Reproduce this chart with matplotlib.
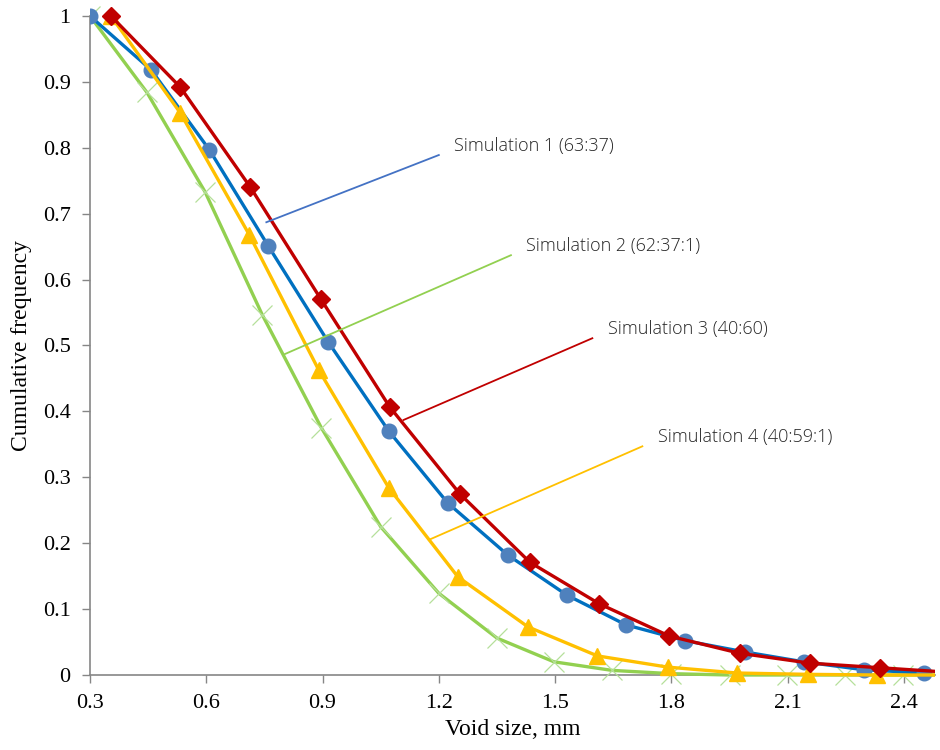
import matplotlib
matplotlib.use('Agg')
import matplotlib.pyplot as plt
from matplotlib.transforms import Bbox, TransformedBbox

# Simulation 1 (63:37) - blue circles
sim1_x = [0.300, 0.458, 0.608, 0.760, 0.915, 1.071, 1.223, 1.378, 1.531, 1.683, 1.836, 1.989, 2.141, 2.296, 2.452]
sim1_y = [1.000, 0.918, 0.797, 0.651, 0.505, 0.370, 0.261, 0.182, 0.121, 0.076, 0.052, 0.035, 0.020, 0.008, 0.003]

# Simulation 2 (62:37:1) - green crosses
sim2_x = [0.300, 0.447, 0.597, 0.745, 0.897, 1.050, 1.200, 1.350, 1.497, 1.647, 1.800, 1.950, 2.097, 2.247, 2.397, 2.547]
sim2_y = [1.000, 0.884, 0.733, 0.546, 0.375, 0.225, 0.124, 0.056, 0.020, 0.007, 0.002, 0.000, 0.000, 0.000, 0.000, 0.000]

# Simulation 3 (40:60) - red diamonds
sim3_x = [0.354, 0.533, 0.714, 0.895, 1.073, 1.254, 1.435, 1.614, 1.795, 1.976, 2.157, 2.338, 2.520]
sim3_y = [1.000, 0.892, 0.740, 0.571, 0.407, 0.275, 0.171, 0.108, 0.059, 0.033, 0.018, 0.011, 0.004]

# Simulation 4 (40:59:1) - yellow triangles
sim4_x = [0.354, 0.533, 0.711, 0.890, 1.071, 1.249, 1.430, 1.609, 1.790, 1.970, 2.152, 2.330, 2.510]
sim4_y = [1.000, 0.853, 0.668, 0.463, 0.284, 0.149, 0.073, 0.029, 0.012, 0.003, 0.001, 0.000, 0.000]

x_ticks = [0.3, 0.6, 0.9, 1.2, 1.5, 1.8, 2.1, 2.4]
x_tick_labels = ['0.3', '0.6', '0.9', '1.2', '1.5', '1.8', '2.1', '2.4']
y_ticks = [0, 0.1, 0.2, 0.3, 0.4, 0.5, 0.6, 0.7, 0.8, 0.9, 1.0]
y_tick_labels = ['0', '0.1', '0.2', '0.3', '0.4', '0.5', '0.6', '0.7', '0.8', '0.9', '1']

# callout labels: (text, line start, line end / text anchor, colour)
labels = ['Simulation 1 (63:37)', 'Simulation 2 (62:37:1)', 'Simulation 3 (40:60)', 'Simulation 4 (40:59:1)']
label_from = [(0.755, 0.687), (0.799, 0.486), (1.109, 0.387), (1.174, 0.205)]
label_to = [(1.200, 0.789), (1.386, 0.637), (1.596, 0.511), (1.725, 0.347)]
label_colors = ['#4472C4', '#92D050', '#C00000', '#FFC000']

fig = plt.figure(figsize=(9.4, 7.5), dpi=100)
ax = fig.add_axes([0.0957, 0.1, 0.8990, 0.8787])

# clip at the left/right edges only, so the markers at y=1 stay whole
clip = TransformedBbox(Bbox([[0, -0.05], [1, 1.05]]), ax.transAxes)

lines = []
lines += ax.plot(sim2_x, sim2_y, color='#92D050', linewidth=2.4, marker='x', markersize=14,
                 markeredgecolor='#B5E09A', markeredgewidth=0.9, zorder=3)
lines += ax.plot(sim1_x, sim1_y, color='#0070C0', linewidth=2.4, marker='o', markersize=10.5,
                 markerfacecolor='#4F81BD', markeredgecolor='#4F81BD', zorder=4)
lines += ax.plot(sim4_x, sim4_y, color='#FFC000', linewidth=2.4, marker='^', markersize=11,
                 markerfacecolor='#FFC000', markeredgecolor='#FFC000', zorder=5)
lines += ax.plot(sim3_x, sim3_y, color='#C00000', linewidth=2.4, marker='D', markersize=9,
                 markerfacecolor='#C00000', markeredgecolor='#C00000', zorder=6)
for ln in lines:
    ln.set_clip_box(clip)

for text, p0, p1, c in zip(labels, label_from, label_to, label_colors):
    ax.plot([p0[0], p1[0]], [p0[1], p1[1]], color=c, linewidth=1.3, zorder=7)
    ax.text(p1[0] + 0.04, p1[1] + 0.014, text, fontsize=13, family='Open Sans',
            fontweight='light', color='#262626', va='center', ha='left', zorder=8)

ax.set_xlim(0.3, 2.48)
ax.set_ylim(0, 1)
ax.set_xticks(x_ticks)
ax.set_xticklabels(x_tick_labels, family='Liberation Serif', fontsize=16)
ax.set_yticks(y_ticks)
ax.set_yticklabels(y_tick_labels, family='Liberation Serif', fontsize=16)
ax.tick_params(axis='both', direction='out', length=6, width=1, color='#868686', pad=8)

for s in ['top', 'right']:
    ax.spines[s].set_visible(False)
for s in ['left', 'bottom']:
    ax.spines[s].set_color('#868686')
    ax.spines[s].set_linewidth(1.2)

ax.set_xlabel('Void size, mm', family='Liberation Serif', fontsize=17, labelpad=4)
ax.set_ylabel('Cumulative frequency', family='Liberation Serif', fontsize=17, labelpad=8)

fig.savefig('out.png', dpi=100)
